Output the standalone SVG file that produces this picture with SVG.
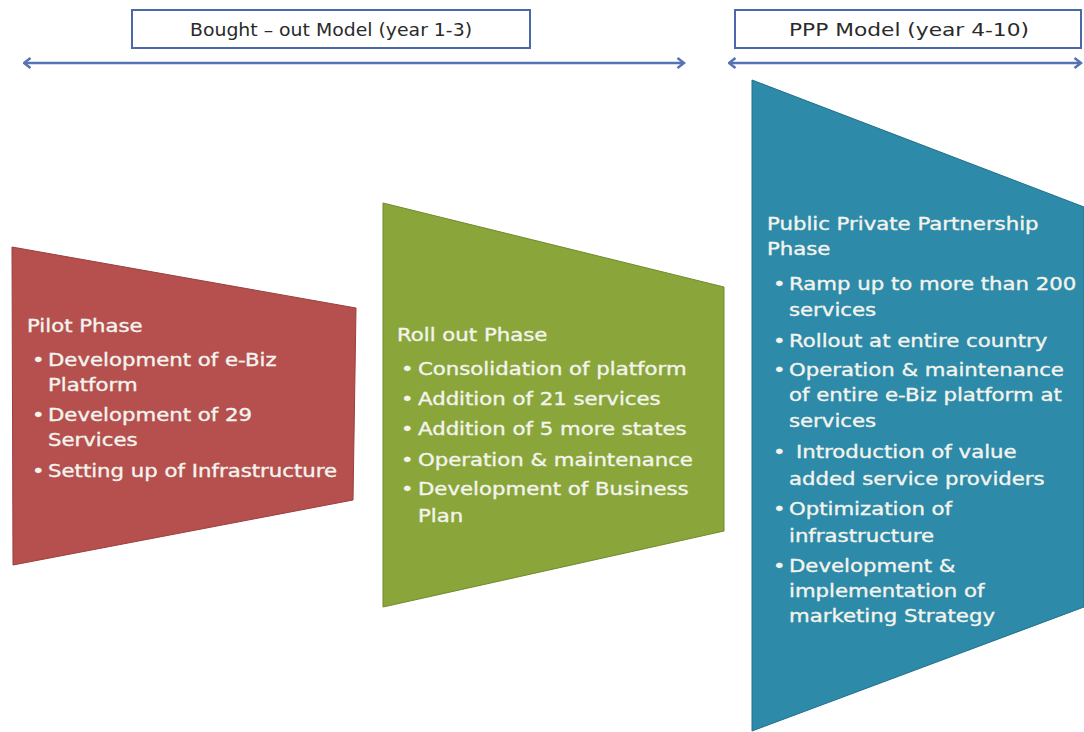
<svg xmlns="http://www.w3.org/2000/svg" width="1084" height="732" viewBox="0 0 1084 732">
<defs>
<style>
.hdr{fill:#ffffff;stroke:#4a68aa;stroke-width:2}
.htxt{font-family:"DejaVu Sans","Liberation Sans",sans-serif;font-size:17px;fill:#2a2a2a}
.t{font-family:"DejaVu Sans","Liberation Sans",sans-serif;font-size:17px;fill:#f4f4ee;stroke:#f4f4ee;stroke-width:0.35}
.arr{stroke:#5573b4;stroke-width:2.5;fill:none}
</style>
<marker id="ah" viewBox="0 0 10 12" refX="8.5" refY="6" markerWidth="10" markerHeight="12" markerUnits="userSpaceOnUse" orient="auto-start-reverse">
<path d="M2,1 L8.5,6 L2,11" fill="none" stroke="#5573b4" stroke-width="2.5"/>
</marker>
</defs>
<rect width="1084" height="732" fill="#ffffff"/>
<g id="header-bought-out">
<rect class="hdr" x="132" y="10" width="398" height="38"/>
<text class="htxt" x="331" y="36" text-anchor="middle" textLength="282" lengthAdjust="spacingAndGlyphs">Bought – out Model (year 1-3)</text>
</g>
<g id="header-ppp">
<rect class="hdr" x="735" y="10" width="346" height="38"/>
<text class="htxt" x="909" y="36" text-anchor="middle" textLength="240" lengthAdjust="spacingAndGlyphs">PPP Model (year 4-10)</text>
</g>
<g id="connectors">
<line class="arr" x1="24" y1="63" x2="684" y2="63" marker-start="url(#ah)" marker-end="url(#ah)"/>
<line class="arr" x1="729" y1="63" x2="1081" y2="63" marker-start="url(#ah)" marker-end="url(#ah)"/>
</g>
<g id="pilot-phase">
<polygon points="12,247 356,308 353,500 13,565" fill="#b5504f" stroke="#9a3f3e" stroke-width="1"/>
<g transform="translate(27,0) scale(1.25,1)">
<text class="t" x="0" y="332">Pilot Phase</text>
<text class="t" x="4" y="366">•</text><text class="t" x="16.8" y="366">Development of e-Biz</text>
<text class="t" x="16.8" y="391">Platform</text>
<text class="t" x="4" y="421">•</text><text class="t" x="16.8" y="421">Development of 29</text>
<text class="t" x="16.8" y="446">Services</text>
<text class="t" x="4" y="477">•</text><text class="t" x="16.8" y="477">Setting up of Infrastructure</text>
</g>
</g>
<g id="rollout-phase">
<polygon points="383,203 724,287 724,531 383,607" fill="#8aa63a" stroke="#6f8a2c" stroke-width="1"/>
<g transform="translate(397,0) scale(1.25,1)">
<text class="t" x="0" y="341">Roll out Phase</text>
<text class="t" x="3.2" y="375">•</text><text class="t" x="16.8" y="375">Consolidation of platform</text>
<text class="t" x="3.2" y="405">•</text><text class="t" x="16.8" y="405">Addition of 21 services</text>
<text class="t" x="3.2" y="435">•</text><text class="t" x="16.8" y="435">Addition of 5 more states</text>
<text class="t" x="3.2" y="466">•</text><text class="t" x="16.8" y="466">Operation &amp; maintenance</text>
<text class="t" x="3.2" y="495">•</text><text class="t" x="16.8" y="495">Development of Business</text>
<text class="t" x="16.8" y="522">Plan</text>
</g>
</g>
<g id="ppp-phase">
<polygon points="752,80 1084,207 1084,607 752,731" fill="#2d8aa8" stroke="#21708c" stroke-width="1"/>
<g transform="translate(767,0) scale(1.25,1)">
<text class="t" x="0" y="230">Public Private Partnership</text>
<text class="t" x="0" y="255">Phase</text>
<text class="t" x="4.8" y="290">•</text><text class="t" x="17.6" y="290">Ramp up to more than 200</text>
<text class="t" x="17.6" y="316">services</text>
<text class="t" x="4.8" y="347">•</text><text class="t" x="17.6" y="347">Rollout  at entire country</text>
<text class="t" x="4.8" y="376">•</text><text class="t" x="17.6" y="376">Operation &amp; maintenance</text>
<text class="t" x="17.6" y="401">of entire e-Biz  platform at</text>
<text class="t" x="17.6" y="427">services</text>
<text class="t" x="4.8" y="458">•</text><text class="t" x="23.2" y="458">Introduction of value</text>
<text class="t" x="17.6" y="485">added service providers</text>
<text class="t" x="4.8" y="515">•</text><text class="t" x="17.6" y="515">Optimization of</text>
<text class="t" x="17.6" y="542">infrastructure</text>
<text class="t" x="4.8" y="572">•</text><text class="t" x="17.6" y="572">Development &amp;</text>
<text class="t" x="17.6" y="597">implementation of</text>
<text class="t" x="17.6" y="622">marketing Strategy</text>
</g>
</g>
</svg>
